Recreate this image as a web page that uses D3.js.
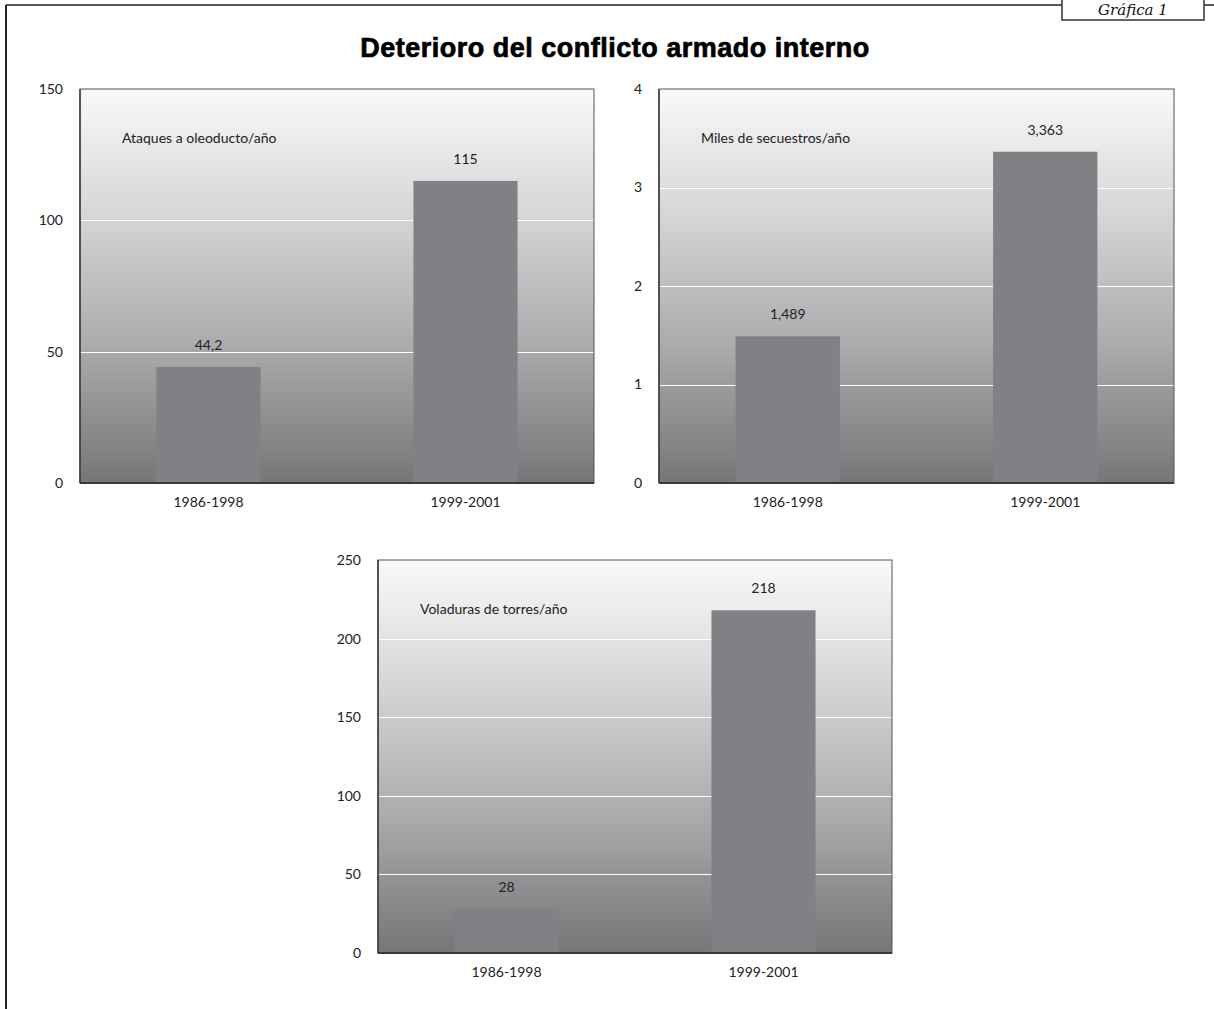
<!DOCTYPE html>
<html>
<head>
<meta charset="utf-8">
<script src="https://cdn.jsdelivr.net/npm/d3@7"></script>
<style>
  body { margin: 0; background: #fff; }
  svg { display: block; }
</style>
</head>
<body>
<div id="mainFigure"></div>
<script>
// datos
const periods = ['1986-1998', '1999-2001'];

const ataques = [44.2, 115];
const ataquesLabels = ['44,2', '115'];
const ataquesTicks = [0, 50, 100, 150];

const secuestros = [1.489, 3.363];
const secuestrosLabels = ['1,489', '3,363'];
const secuestrosTicks = [0, 1, 2, 3, 4];

const voladuras = [28, 218];
const voladurasLabels = ['28', '218'];
const voladurasTicks = [0, 50, 100, 150, 200, 250];

const W = 1214, H = 1009;
const font = 'Lato, "Open Sans", sans-serif';

const svg = d3.select('#mainFigure')
    .append('svg')
    .attr('width', W)
    .attr('height', H);

// degradado del fondo
const defs = svg.append('defs');
const grad = defs.append('linearGradient')
    .attr('id', 'bg')
    .attr('x1', 0).attr('y1', 0).attr('x2', 0).attr('y2', 1);
grad.append('stop').attr('offset', '0%').attr('stop-color', '#f9f9f9');
grad.append('stop').attr('offset', '30%').attr('stop-color', '#d8d8da');
grad.append('stop').attr('offset', '65%').attr('stop-color', '#ababae');
grad.append('stop').attr('offset', '100%').attr('stop-color', '#767679');

// marco exterior
svg.append('line')
    .attr('x1', 6).attr('y1', 5).attr('x2', W).attr('y2', 5)
    .attr('stroke', '#555').attr('stroke-width', 2);
svg.append('line')
    .attr('x1', 6).attr('y1', 5).attr('x2', 6).attr('y2', H)
    .attr('stroke', '#222').attr('stroke-width', 2);

svg.append('rect')
    .attr('x', 1062).attr('y', -5)
    .attr('width', 142).attr('height', 25)
    .attr('fill', '#fff')
    .attr('stroke', '#333').attr('stroke-width', 1.5);
svg.append('text')
    .attr('x', 1133).attr('y', 15)
    .attr('text-anchor', 'middle')
    .style('font-family', '"DejaVu Serif", "Liberation Serif", serif')
    .style('font-style', 'italic')
    .style('font-size', '15px')
    .style('fill', '#111')
    .text('Gráfica 1');

// título
svg.append('text')
    .attr('x', 615).attr('y', 57)
    .attr('text-anchor', 'middle')
    .style('font-family', '"Liberation Sans", Arial, sans-serif')
    .style('font-weight', 900)
    .style('font-size', '27px')
    .style('letter-spacing', '0.5px')
    .style('stroke', '#000')
    .style('stroke-width', '0.7px')
    .style('fill', '#000')
    .text('Deterioro del conflicto armado interno');

function drawPanel(opts) {
    const { left, top, width, height, values, labels, ticks, caption } = opts;
    const g = svg.append('g').attr('transform', `translate(${left},${top})`);

    const x = d3.scaleBand().domain(periods).range([0, width]).padding(0);
    const y = d3.scaleLinear().domain([0, d3.max(ticks)]).range([height, 0]);
    const barW = x.bandwidth() * 0.405;

    g.append('rect')
        .attr('width', width)
        .attr('height', height)
        .attr('fill', 'url(#bg)');

    // líneas de cuadrícula
    g.selectAll('.grid')
        .data(ticks.filter(t => t > 0 && t < d3.max(ticks)))
        .enter()
        .append('line')
        .attr('x1', 0).attr('x2', width)
        .attr('y1', d => Math.round(y(d)) + 0.5)
        .attr('y2', d => Math.round(y(d)) + 0.5)
        .attr('stroke', '#fff')
        .attr('stroke-width', 1.2);

    // barras
    g.selectAll('.bar')
        .data(values)
        .enter()
        .append('rect')
        .attr('x', (d, i) => x(periods[i]) + (x.bandwidth() - barW) / 2)
        .attr('y', d => y(d))
        .attr('width', barW)
        .attr('height', d => height - y(d))
        .attr('fill', '#808184');

    // borde
    g.append('rect')
        .attr('width', width)
        .attr('height', height)
        .attr('fill', 'none')
        .attr('stroke', '#555')
        .attr('stroke-width', 1);
    g.append('line')
        .attr('x1', 0).attr('x2', width)
        .attr('y1', height).attr('y2', height)
        .attr('stroke', '#3a3a3a').attr('stroke-width', 2);
    g.append('line')
        .attr('x1', 0).attr('x2', 0)
        .attr('y1', 0).attr('y2', height)
        .attr('stroke', '#3a3a3a').attr('stroke-width', 1.5);

    // etiquetas de valor
    g.selectAll('.val')
        .data(values)
        .enter()
        .append('text')
        .attr('x', (d, i) => x(periods[i]) + x.bandwidth() / 2)
        .attr('y', d => y(d) - 17)
        .attr('text-anchor', 'middle')
        .style('font-family', font)
        .style('font-size', '14px')
        .style('fill', '#222')
        .text((d, i) => labels[i]);

    // título interior
    g.append('text')
        .attr('x', 42).attr('y', 54)
        .style('font-family', font)
        .style('font-size', '14px')
        .style('fill', '#222')
        .text(caption);

    // eje Y
    const yAxis = g.append('g')
        .call(d3.axisLeft(y).tickValues(ticks).tickFormat(d3.format('d'))
            .tickSize(0).tickPadding(17));
    yAxis.select('.domain').remove();
    yAxis.selectAll('text')
        .style('font-family', font)
        .style('font-size', '14px')
        .style('fill', '#222');

    // eje X
    const xAxis = g.append('g')
        .attr('transform', `translate(0,${height})`)
        .call(d3.axisBottom(x).tickSize(0).tickPadding(14));
    xAxis.select('.domain').remove();
    xAxis.selectAll('text')
        .style('font-family', font)
        .style('font-size', '14px')
        .style('fill', '#222');
}

drawPanel({ left: 80, top: 89, width: 514, height: 394,
    values: ataques, labels: ataquesLabels, ticks: ataquesTicks,
    caption: 'Ataques a oleoducto/año' });

drawPanel({ left: 659, top: 89, width: 515, height: 394,
    values: secuestros, labels: secuestrosLabels, ticks: secuestrosTicks,
    caption: 'Miles de secuestros/año' });

drawPanel({ left: 378, top: 560, width: 514, height: 393,
    values: voladuras, labels: voladurasLabels, ticks: voladurasTicks,
    caption: 'Voladuras de torres/año' });
</script>
</body>
</html>
